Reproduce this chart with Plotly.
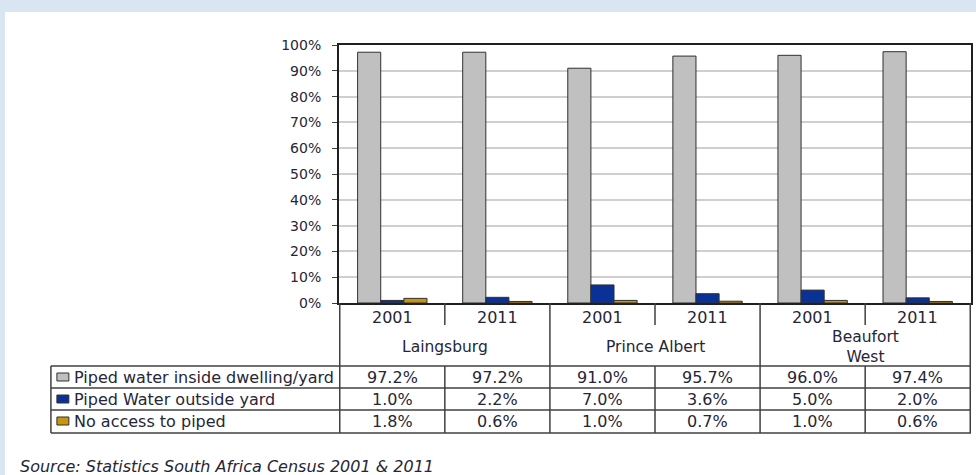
import plotly.graph_objects as go

# data
municipalities = ["Laingsburg", "Prince Albert", "Beaufort<br>West"]
years = ["2001", "2011"]
series_names = ["Piped water inside dwelling/yard", "Piped Water outside yard", "No access to piped"]
inside_yard = [97.2, 97.2, 91.0, 95.7, 96.0, 97.4]
outside_yard = [1.0, 2.2, 7.0, 3.6, 5.0, 2.0]
no_access = [1.8, 0.6, 1.0, 0.7, 1.0, 0.6]
colors = ["#c0c0c0", "#0a3296", "#c8960c"]
y_ticks = list(range(0, 101, 10))

W, H = 976, 475
L, R, T, B = 339, 973, 45, 303   # plot area in pixels


def px(x):
    return (x - L) / (R - L)


def py(y):
    return (B - y) / (B - T)


cats = [f"{m}|{y}" for m in municipalities for y in years]
series = [inside_yard, outside_yard, no_access]

fig = go.Figure()
for name, vals, col in zip(series_names, series, colors):
    fig.add_trace(go.Bar(x=cats, y=vals, name=name, marker_color=col,
                         marker_line=dict(color="#303030", width=1)))

FONT = "DejaVu Sans, sans-serif"
TXT = "#262636"
shapes = []
ann = []

# white panel over light blue background
shapes.append(dict(type="rect", xref="paper", yref="paper", x0=px(4), x1=px(W + 5),
                   y0=py(H + 5), y1=py(12), fillcolor="white", line_width=0, layer="below"))

line = dict(color="#404040", width=1.5)
n = len(cats)
# group boundaries (full height) and year separators
for i in range(0, n + 1, 2):
    shapes.append(dict(type="line", xref="x", yref="paper", x0=i - 0.5, x1=i - 0.5,
                       y0=py(303), y1=py(433), line=line))
for i in range(1, n, 2):
    shapes.append(dict(type="line", xref="x", yref="paper", x0=i - 0.5, x1=i - 0.5,
                       y0=py(303), y1=py(325), line=line))
    shapes.append(dict(type="line", xref="x", yref="paper", x0=i - 0.5, x1=i - 0.5,
                       y0=py(366), y1=py(433), line=line))
# table rows
for yy in [366, 388, 410, 433]:
    shapes.append(dict(type="line", xref="paper", yref="paper", x0=px(50), x1=px(R),
                       y0=py(yy), y1=py(yy), line=line))
shapes.append(dict(type="line", xref="paper", yref="paper", x0=px(50), x1=px(50),
                   y0=py(366), y1=py(433), line=line))

# year labels and municipality names
for i, c in enumerate(cats):
    ann.append(dict(xref="x", yref="paper", x=i, y=py(317), text=c.split("|")[1],
                    xanchor="center", yanchor="middle",
                    showarrow=False, font=dict(size=16, color=TXT)))
for j, m in enumerate(municipalities):
    ann.append(dict(xref="x", yref="paper", x=2 * j + 0.5, y=py(347), text=m,
                    xanchor="center", yanchor="middle",
                    showarrow=False, font=dict(size=15.5, color=TXT)))

# data rows
row_y = [377, 399, 421]
for name, vals, col, ry in zip(series_names, series, colors, row_y):
    shapes.append(dict(type="rect", xref="paper", yref="paper", x0=px(56), x1=px(68),
                       y0=py(ry + 4), y1=py(ry - 4), fillcolor=col,
                       line=dict(color="#303030", width=1)))
    ann.append(dict(xref="paper", yref="paper", x=px(71), y=py(ry), text=name,
                    xanchor="left", yanchor="middle",
                    showarrow=False, font=dict(size=16, color=TXT)))
    for i, v in enumerate(vals):
        ann.append(dict(xref="x", yref="paper", x=i, y=py(ry), text=f"{v:.1f}%",
                        xanchor="center", yanchor="middle",
                        showarrow=False, font=dict(size=16, color=TXT)))

ann.append(dict(xref="paper", yref="paper", x=px(17), y=py(466), xanchor="left",
                yanchor="middle",
                text="<i>Source: Statistics South Africa Census 2001 & 2011</i>",
                showarrow=False, font=dict(size=16, color=TXT)))

fig.update_layout(
    width=W, height=H,
    margin=dict(l=L, r=W - R, t=T, b=H - B),
    paper_bgcolor="#d9e5f1",
    plot_bgcolor="white",
    font=dict(family=FONT, color=TXT),
    barmode="group", bargap=0.34, bargroupgap=0,
    showlegend=False,
    shapes=shapes, annotations=ann,
    xaxis=dict(showticklabels=False, showgrid=False, linecolor="#202020", linewidth=2,
               mirror=True, ticks=""),
    yaxis=dict(range=[0, 100], tickvals=y_ticks, ticktext=[f"{t}%" for t in y_ticks],
               gridcolor="#cfcfcf", gridwidth=1.5, linecolor="#202020", linewidth=2,
               mirror=True, ticks="outside", ticklen=5, tickcolor="#404040",
               ticklabelstandoff=8,
               tickfont=dict(size=14, color=TXT), zeroline=False),
)

fig.write_html("out.html", config={"displayModeBar": False},
               post_script="document.body.style.margin='0';")
